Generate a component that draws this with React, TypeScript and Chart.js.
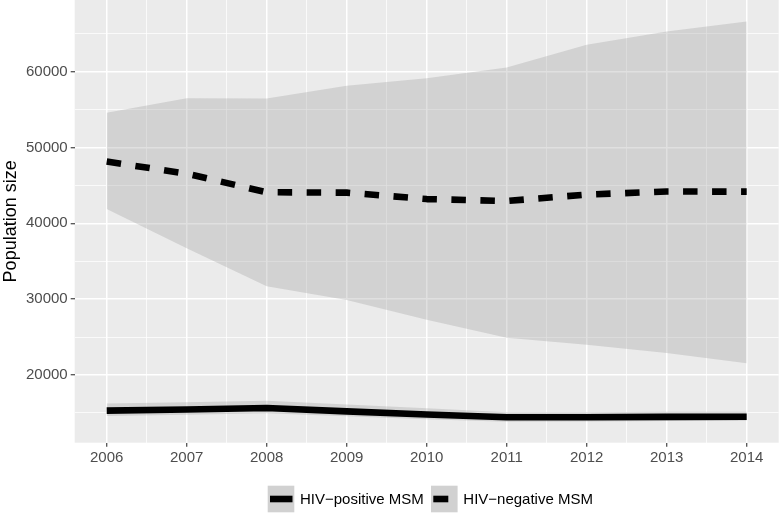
import React, { useEffect, useRef } from 'react';
import { Chart, registerables } from 'chart.js';

Chart.register(...registerables);

// ---- data ----
const years = [2006, 2007, 2008, 2009, 2010, 2011, 2012, 2013, 2014];
const negMedian = [48150, 46550, 44100, 44050, 43200, 42950, 43800, 44200, 44180];
const negLower = [41900, 36700, 31700, 29900, 27300, 24900, 24000, 22900, 21550];
const negUpper = [54600, 56500, 56450, 58150, 59150, 60550, 63550, 65300, 66620];
const posMedian = [15300, 15450, 15650, 15200, 14800, 14420, 14420, 14480, 14500];
const posLower = [14600, 14750, 14950, 14550, 14150, 13850, 13860, 13940, 13970];
const posUpper = [16250, 16400, 16600, 16100, 15600, 15080, 15100, 15140, 15160];
const yTickValues = [20000, 30000, 40000, 50000, 60000];
const yMinorValues = [15000, 25000, 35000, 45000, 55000, 65000];
const xMinorValues = [2006.5, 2007.5, 2008.5, 2009.5, 2010.5, 2011.5, 2012.5, 2013.5];
const legendLabels = ['HIV\u2212positive MSM', 'HIV\u2212negative MSM'];
const yTitle = 'Population size';

const FONT = "'Liberation Sans', Arial, sans-serif";

const pts = (arr: number[]) => years.map((x, i) => ({ x, y: arr[i] }));

export default function App() {
  const ref = useRef<HTMLCanvasElement | null>(null);

  useEffect(() => {
    const canvas = ref.current;
    if (!canvas) return;

    const panelBg = {
      id: 'panelBg',
      beforeDraw(chart: any) {
        const { ctx, chartArea: a } = chart;
        ctx.save();
        ctx.fillStyle = '#EBEBEB';
        ctx.fillRect(a.left, a.top, a.right - a.left, a.bottom - a.top);
        ctx.restore();
      },
    };

    const customLegend = {
      id: 'customLegend',
      afterDraw(chart: any) {
        const { ctx } = chart;
        ctx.save();
        const keyY = 485.7;
        const keyS = 26.6;
        const keys = [
          { x: 267.7, lineW: 22.5, lineX: 270, tx: 300 },
          { x: 431, lineW: 15, lineX: 433.3, tx: 463.3 },
        ];
        ctx.font = `15px ${FONT}`;
        ctx.textBaseline = 'middle';
        keys.forEach((k, i) => {
          ctx.fillStyle = '#D1D1D1';
          ctx.fillRect(k.x, keyY, keyS, keyS);
          ctx.fillStyle = '#000000';
          ctx.fillRect(k.lineX, keyY + keyS / 2 - 3.3, k.lineW, 6.6);
          ctx.fillText(legendLabels[i], k.tx, keyY + keyS / 2 + 0.5);
        });
        ctx.restore();
      },
    };

    const isMajorX = (v: number) => Number.isInteger(v);
    const isMajorY = (v: number) => yTickValues.includes(v);

    const ribbonFill = 'rgba(153,153,153,0.3)';

    const chart = new Chart(canvas, {
      type: 'line',
      data: {
        datasets: [
          {
            label: 'negLower',
            data: pts(negLower),
            borderWidth: 0,
            borderColor: 'rgba(0,0,0,0)',
            pointRadius: 0,
            fill: false,
            order: 3,
          },
          {
            label: 'negUpper',
            data: pts(negUpper),
            borderWidth: 0,
            borderColor: 'rgba(0,0,0,0)',
            backgroundColor: ribbonFill,
            pointRadius: 0,
            fill: '-1',
            order: 3,
          },
          {
            label: 'posLower',
            data: pts(posLower),
            borderWidth: 0,
            borderColor: 'rgba(0,0,0,0)',
            pointRadius: 0,
            fill: false,
            order: 2,
          },
          {
            label: 'posUpper',
            data: pts(posUpper),
            borderWidth: 0,
            borderColor: 'rgba(0,0,0,0)',
            backgroundColor: ribbonFill,
            pointRadius: 0,
            fill: '-1',
            order: 2,
          },
          {
            label: legendLabels[1],
            data: pts(negMedian),
            borderColor: '#000000',
            borderWidth: 6.6,
            borderDash: [14.5, 14.5],
            borderCapStyle: 'butt',
            borderJoinStyle: 'round',
            pointRadius: 0,
            fill: false,
            tension: 0,
            order: 0,
          },
          {
            label: legendLabels[0],
            data: pts(posMedian),
            borderColor: '#000000',
            borderWidth: 6.6,
            borderCapStyle: 'butt',
            borderJoinStyle: 'round',
            pointRadius: 0,
            fill: false,
            tension: 0,
            order: 0,
          },
        ],
      },
      options: {
        responsive: false,
        animation: false,
        layout: { padding: { left: 0, right: 1.3, top: 0, bottom: 0 } },
        plugins: {
          legend: { display: false },
          tooltip: { enabled: false },
        },
        scales: {
          x: {
            type: 'linear',
            min: 2005.6,
            max: 2014.4,
            afterBuildTicks: (scale: any) => {
              scale.ticks = [...years, ...xMinorValues]
                .sort((a, b) => a - b)
                .map((v) => ({ value: v }));
            },
            afterFit: (scale: any) => {
              scale.height = 515 - 442.7;
              scale.paddingLeft = 0;
              scale.paddingRight = 0;
            },
            ticks: {
              autoSkip: false,
              maxRotation: 0,
              minRotation: 0,
              padding: 2,
              color: '#4D4D4D',
              font: { family: FONT, size: 15 },
              callback: (v: any) => (isMajorX(Number(v)) ? String(v) : ''),
            },
            grid: {
              color: '#FFFFFF',
              lineWidth: (c: any) => (isMajorX(c.tick?.value) ? 1.5 : 0.75),
              tickColor: (c: any) => (isMajorX(c.tick?.value) ? '#333333' : 'rgba(0,0,0,0)'),
              tickWidth: 1.1,
              tickLength: 4,
              drawTicks: true,
            },
            border: { display: false },
          },
          y: {
            type: 'linear',
            min: 11072,
            max: 69455,
            afterBuildTicks: (scale: any) => {
              scale.ticks = [...yTickValues, ...yMinorValues]
                .sort((a, b) => a - b)
                .map((v) => ({ value: v }));
            },
            afterFit: (scale: any) => {
              scale.width = 74.7;
              scale.paddingTop = 0;
              scale.paddingBottom = 0;
            },
            ticks: {
              autoSkip: false,
              padding: 3,
              color: '#4D4D4D',
              font: { family: FONT, size: 15 },
              callback: (v: any) => (isMajorY(Number(v)) ? String(v) : ''),
            },
            grid: {
              color: '#FFFFFF',
              lineWidth: (c: any) => (isMajorY(c.tick?.value) ? 1.5 : 0.75),
              tickColor: (c: any) => (isMajorY(c.tick?.value) ? '#333333' : 'rgba(0,0,0,0)'),
              tickWidth: 1.1,
              tickLength: 4,
              drawTicks: true,
            },
            border: { display: false },
            title: {
              display: true,
              text: yTitle,
              color: '#000000',
              font: { family: FONT, size: 18 },
              padding: { top: 0, bottom: 0 },
            },
          },
        },
      },
      plugins: [panelBg, customLegend],
    } as any);

    return () => chart.destroy();
  }, []);

  return (
    <div style={{ position: 'absolute', left: 0, top: 0, width: 780, height: 515, background: '#FFFFFF' }}>
      <canvas ref={ref} width={780} height={515} style={{ display: 'block', width: 780, height: 515 }} />
    </div>
  );
}
